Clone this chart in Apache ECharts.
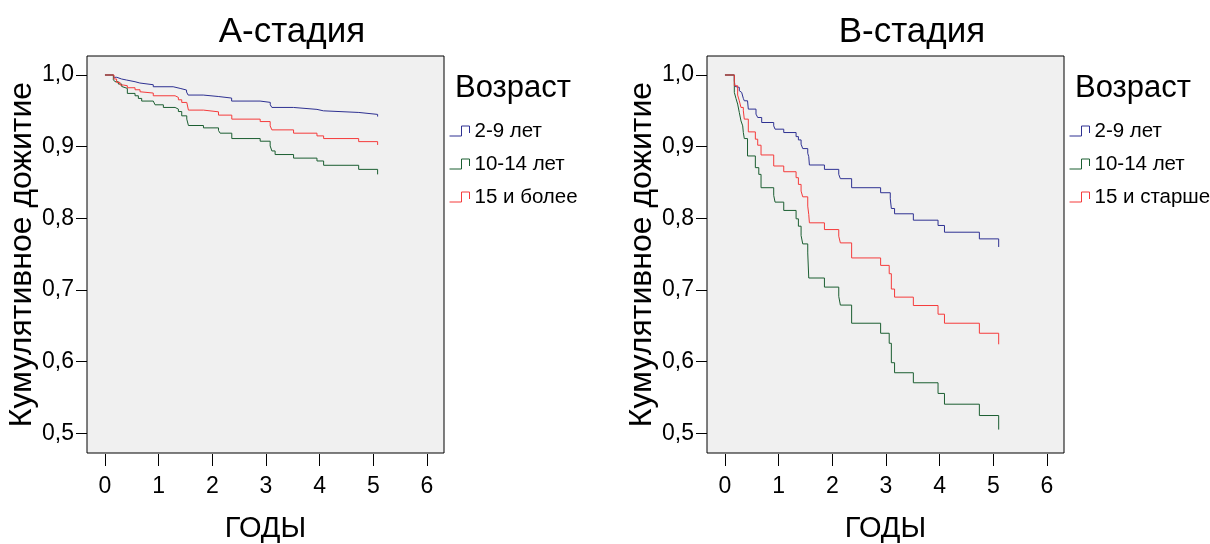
<!DOCTYPE html>
<html>
<head>
<meta charset="utf-8">
<script src="https://cdn.jsdelivr.net/npm/echarts@6/dist/echarts.min.js"></script>
<style>
html,body{margin:0;padding:0;background:#fff;}
#chart{width:1210px;height:544px;}
</style>
</head>
<body>
<div id="chart"></div>
<script>
// ---- Data ----
const titles = ['А-стадия', 'В-стадия'];
const legendTitle = 'Возраст';
const groupNamesA = ['2-9 лет', '10-14 лет', '15 и более'];
const groupNamesB = ['2-9 лет', '10-14 лет', '15 и старше'];
const xTicks = [0, 1, 2, 3, 4, 5, 6];
const yTicks = [0.5, 0.6, 0.7, 0.8, 0.9, 1.0];
const yTickLabels = ['0,5', '0,6', '0,7', '0,8', '0,9', '1,0'];
const xAxisTitle = 'ГОДЫ';
const yAxisTitle = 'Кумулятивное дожитие';

// A-stage, 2-9
const aT1 = [0, 0.16, 0.22, 0.31, 0.40, 0.56, 0.65, 0.90, 1.27, 1.40, 1.52, 1.55, 1.83, 2.11, 2.36, 2.89, 3.08, 3.11, 3.51, 3.95, 4.07, 4.73, 5.08];
const aS1 = [1.0, 0.9968, 0.9944, 0.993, 0.9906, 0.9888, 0.9864, 0.9836, 0.9813, 0.979, 0.9762, 0.972, 0.970, 0.9678, 0.9636, 0.9618, 0.9584, 0.9547, 0.952, 0.950, 0.9477, 0.945, 0.942];
// A-stage, 10-14
const aT2 = [0, 0.156, 0.187, 0.249, 0.311, 0.342, 0.417, 0.56, 0.622, 0.684, 0.90, 0.933, 1.088, 1.306, 1.368, 1.43, 1.524, 1.555, 1.835, 2.115, 2.146, 2.363, 2.892, 3.078, 3.11, 3.17, 3.514, 3.95, 4.074, 4.727, 5.08];
const aS2 = [1.0, 0.9934, 0.9906, 0.9874, 0.984, 0.9813, 0.9743, 0.971, 0.9673, 0.9636, 0.9617, 0.9584, 0.9547, 0.9524, 0.949, 0.943, 0.9384, 0.9295, 0.9262, 0.9225, 0.9188, 0.9113, 0.9076, 0.901, 0.894, 0.889, 0.884, 0.880, 0.874, 0.8683, 0.8613];
// A-stage, 15+
const aT3 = [0, 0.168, 0.217, 0.28, 0.342, 0.417, 0.56, 0.653, 0.684, 0.90, 1.306, 1.368, 1.43, 1.524, 1.555, 1.835, 2.115, 2.363, 2.892, 3.078, 3.11, 3.514, 3.95, 4.074, 4.727, 5.08];
const aS3 = [1.0, 0.9944, 0.9897, 0.986, 0.985, 0.9822, 0.9794, 0.9766, 0.9748, 0.971, 0.9687, 0.9654, 0.9617, 0.9594, 0.951, 0.9486, 0.944, 0.9384, 0.935, 0.929, 0.9234, 0.9188, 0.915, 0.9113, 0.907, 0.9024];

// B-stage, 2-9
const bT1 = [0, 0.174, 0.187, 0.224, 0.267, 0.286, 0.311, 0.342, 0.36, 0.42, 0.435, 0.578, 0.61, 0.684, 0.908, 0.933, 1.095, 1.325, 1.368, 1.418, 1.449, 1.542, 1.561, 1.573, 1.853, 2.12, 2.15, 2.36, 2.90, 3.08, 3.10, 3.16, 3.51, 3.97, 4.09, 4.74, 5.10];
const bS1 = [1.0, 0.992, 0.984, 0.9827, 0.978, 0.9757, 0.9734, 0.9673, 0.964, 0.9626, 0.9524, 0.9454, 0.9407, 0.9337, 0.929, 0.9244, 0.9197, 0.914, 0.9094, 0.9034, 0.8973, 0.8908, 0.886, 0.8744, 0.8683, 0.8613, 0.8553, 0.8427, 0.8357, 0.8273, 0.8137, 0.8063, 0.7974, 0.790, 0.7806, 0.7713, 0.760];
// B-stage, 10-14
const bT2 = [0, 0.174, 0.205, 0.236, 0.249, 0.267, 0.298, 0.33, 0.342, 0.36, 0.42, 0.566, 0.63, 0.672, 0.908, 0.933, 1.095, 1.325, 1.368, 1.418, 1.449, 1.542, 1.561, 1.853, 2.12, 2.15, 2.36, 2.90, 3.06, 3.10, 3.16, 3.51, 3.97, 4.09, 4.74, 5.10];
const bS2 = [1.0, 0.9757, 0.9673, 0.9594, 0.957, 0.9477, 0.936, 0.929, 0.9197, 0.9113, 0.887, 0.8707, 0.8613, 0.8427, 0.832, 0.8226, 0.811, 0.7993, 0.789, 0.776, 0.7643, 0.7517, 0.7167, 0.704, 0.691, 0.6789, 0.6536, 0.6396, 0.6256, 0.5985, 0.5845, 0.5705, 0.5556, 0.5406, 0.5248, 0.5052];
// B-stage, 15+
const bT3 = [0, 0.174, 0.236, 0.267, 0.298, 0.342, 0.36, 0.435, 0.566, 0.61, 0.672, 0.908, 1.095, 1.325, 1.368, 1.418, 1.449, 1.542, 1.561, 1.573, 1.853, 2.12, 2.15, 2.36, 2.90, 3.06, 3.10, 3.16, 3.51, 3.97, 4.09, 4.74, 5.10];
const bS3 = [1.0, 0.985, 0.972, 0.964, 0.9547, 0.950, 0.9384, 0.9206, 0.9104, 0.902, 0.8884, 0.873, 0.865, 0.8567, 0.8473, 0.838, 0.830, 0.817, 0.8053, 0.7937, 0.7843, 0.775, 0.7657, 0.7447, 0.7343, 0.7227, 0.7013, 0.690, 0.6783, 0.6662, 0.6536, 0.6396, 0.6242];

// ---- Styling ----
const colors = ['#2e3192', '#1b5e31', '#f53b3b'];
const FONT = '"Liberation Sans", Arial, sans-serif';
const zip = (t, s) => t.map((v, i) => [v, s[i]]);
const stepIcon = 'path://M0,10L12,10L12,0L20,0L20,7';

const gridW = 357, gridH = 397, gridTop = 56;
const gridLefts = [87, 707];

function makeAxes(idx) {
  return {
    x: {
      type: 'value', gridIndex: idx, min: -0.335, max: 6.317,
      offset: 1,
      axisLine: { show: false, onZero: false },
      axisTick: { show: true, length: 12, customValues: xTicks, lineStyle: { color: '#000', width: 1 } },
      axisLabel: { customValues: xTicks, color: '#000', fontSize: 23, fontFamily: FONT, margin: 21 },
      splitLine: { show: false },
      name: xAxisTitle, nameLocation: 'middle', nameGap: 60,
      nameTextStyle: { color: '#000', fontSize: 29, fontFamily: FONT }
    },
    y: {
      type: 'value', gridIndex: idx, min: 0.4725, max: 1.0265,
      axisLine: { show: false, onZero: false },
      axisTick: { show: true, length: 11, customValues: yTicks, lineStyle: { color: '#000', width: 1 } },
      axisLabel: {
        customValues: yTicks, color: '#000', fontSize: 23, fontFamily: FONT, margin: 13,
        formatter: v => yTickLabels[yTicks.findIndex(t => Math.abs(t - v) < 1e-6)]
      },
      splitLine: { show: false },
      name: yAxisTitle, nameLocation: 'middle', nameGap: 42,
      nameTextStyle: { color: '#000', fontSize: 32, fontFamily: FONT }
    }
  };
}
const ax0 = makeAxes(0), ax1 = makeAxes(1);

function series(name, t, s, color, idx) {
  return {
    type: 'line', name, xAxisIndex: idx, yAxisIndex: idx,
    data: zip(t, s), step: 'end', symbol: 'none', showSymbol: false,
    lineStyle: { color, width: 1 }, itemStyle: { color },
    emphasis: { disabled: true }, silent: true, animation: false
  };
}

function legendFor(names, left) {
  return {
    orient: 'vertical', left, top: 120, padding: 0,
    itemWidth: 20, itemHeight: 10, itemGap: 11,
    selectedMode: false,
    textStyle: { color: '#000', fontSize: 20.5, fontFamily: FONT, lineHeight: 22 },
    data: names.map((n, i) => ({
      name: n, icon: stepIcon,
      itemStyle: { color: 'none', borderColor: colors[i], borderWidth: 1 }
    }))
  };
}

const option = {
  animation: false,
  backgroundColor: '#fff',
  textStyle: { fontFamily: FONT },
  title: [
    { text: titles[0], left: 292, top: 15, padding: 0, textAlign: 'center',
      textStyle: { color: '#000', fontSize: 35, fontWeight: 'normal', fontFamily: FONT } },
    { text: titles[1], left: 912, top: 15, padding: 0, textAlign: 'center',
      textStyle: { color: '#000', fontSize: 35, fontWeight: 'normal', fontFamily: FONT } },
    { text: legendTitle, left: 455, top: 73, padding: 0,
      textStyle: { color: '#000', fontSize: 31, fontWeight: 'normal', fontFamily: FONT } },
    { text: legendTitle, left: 1075, top: 73, padding: 0,
      textStyle: { color: '#000', fontSize: 31, fontWeight: 'normal', fontFamily: FONT } }
  ],
  legend: [legendFor(groupNamesA, 447), legendFor(groupNamesB, 1067)],
  grid: gridLefts.map(l => ({
    left: l, top: gridTop, width: gridW, height: gridH,
    show: true, backgroundColor: '#f0f0f0', borderColor: '#000', borderWidth: 1,
    containLabel: false, outerBoundsMode: 'none'
  })),
  xAxis: [ax0.x, ax1.x],
  yAxis: [ax0.y, ax1.y],
  series: [
    series(groupNamesA[0], aT1, aS1, colors[0], 0),
    series(groupNamesA[1], aT2, aS2, colors[1], 0),
    series(groupNamesA[2], aT3, aS3, colors[2], 0),
    series(groupNamesB[0], bT1, bS1, colors[0], 1),
    series(groupNamesB[1], bT2, bS2, colors[1], 1),
    series(groupNamesB[2], bT3, bS3, colors[2], 1)
  ]
};

const chart = echarts.init(document.getElementById('chart'), null, { renderer: 'canvas' });
chart.setOption(option);
</script>
</body>
</html>
